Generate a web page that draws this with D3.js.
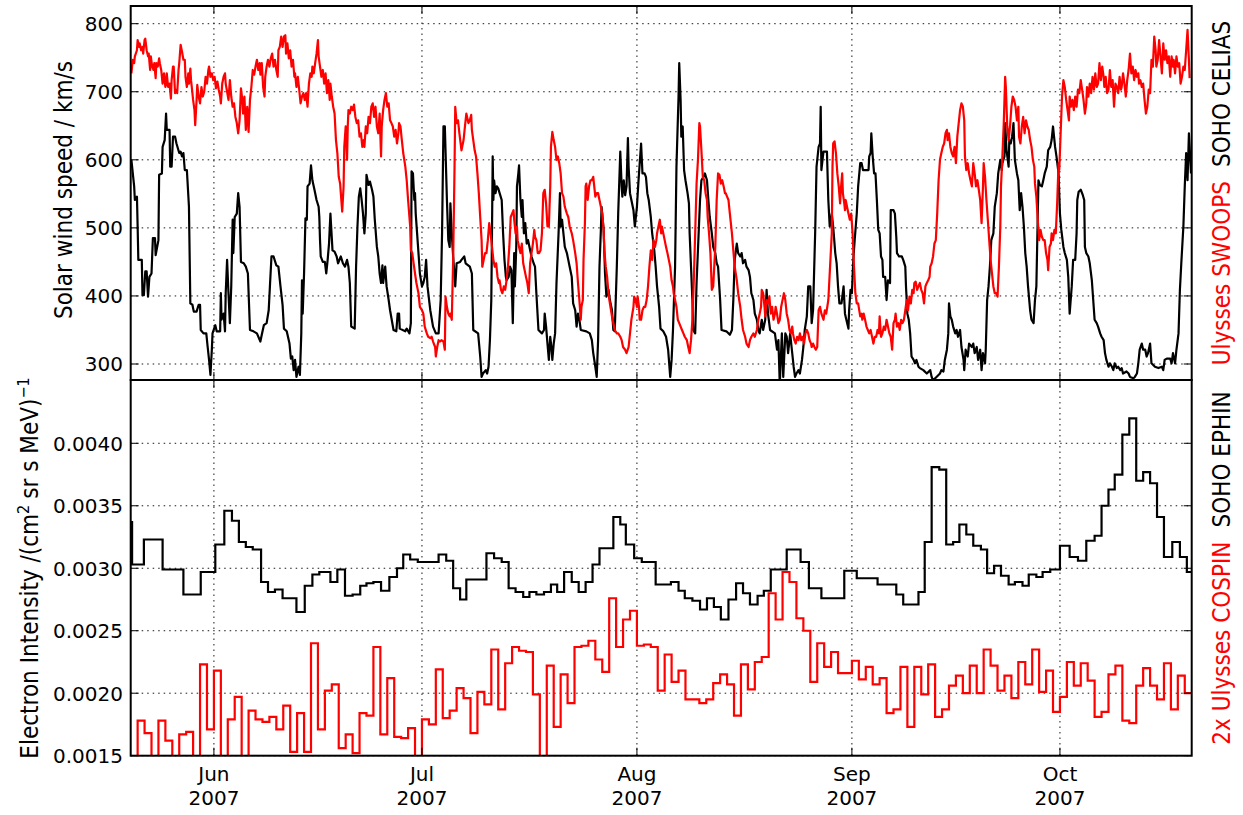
<!DOCTYPE html>
<html>
<head>
<meta charset="utf-8">
<script src="https://cdn.jsdelivr.net/npm/d3@7"></script>
<style>
  body { margin: 0; background: #fff; }
  text { font-family: "DejaVu Sans", sans-serif; }
  .lab { font-family: "DejaVu Sans Condensed", "DejaVu Sans", sans-serif; font-stretch: condensed; }
</style>
</head>
<body>
<div id="chart"></div>
<script>
// time axis: days counted from 2007-05-20 00:00 UT
const startDate = new Date(Date.UTC(2007, 4, 20));
const endDate = new Date(Date.UTC(2007, 9, 20));
const monthTicks = ["2007-06-01", "2007-07-01", "2007-08-01", "2007-09-01", "2007-10-01"];
const speedTicks = [300, 400, 500, 600, 700, 800];
const intensityTicks = [0.0015, 0.0020, 0.0025, 0.0030, 0.0035, 0.0040];

// SOHO CELIAS solar wind speed [day, km/s]
const celias = [[0.1,600],[0.5,561],[0.6,541],[0.9,546],[1.0,502],[1.1,453],[1.6,453],[1.7,401],[1.9,401],[2.1,436],[2.3,436],[2.5,399],[2.7,428],[3.0,433],[3.2,485],[3.5,485],[3.6,460],[4.0,482],[4.1,578],[4.5,580],[4.6,619],[4.9,629],[5.1,668],[5.2,644],[5.6,644],[5.7,590],[5.9,590],[6.1,634],[6.4,634],[6.6,624],[7.0,610],[7.2,612],[7.4,605],[7.6,610],[7.8,585],[8.1,585],[8.4,531],[8.6,389],[8.9,387],[9.1,377],[9.5,377],[9.8,387],[10.0,387],[10.1,350],[10.5,345],[10.9,345],[11.1,325],[11.3,306],[11.5,284],[11.7,321],[11.8,345],[12.2,357],[12.4,348],[12.9,348],[13.0,404],[13.1,365],[13.4,374],[13.6,348],[13.7,404],[13.9,453],[14.1,404],[14.3,360],[14.5,414],[14.7,512],[14.8,463],[15.0,516],[15.3,521],[15.5,551],[15.7,531],[15.9,450],[16.3,448],[16.6,443],[16.9,433],[17.2,350],[17.7,348],[18.2,345],[18.7,333],[18.9,343],[19.2,357],[19.6,360],[19.9,379],[20.1,419],[20.3,458],[20.6,458],[21.0,445],[21.3,443],[21.6,414],[21.9,387],[22.1,352],[22.5,348],[22.9,330],[23.1,308],[23.3,311],[23.5,291],[23.7,306],[23.9,281],[24.2,296],[24.4,284],[24.6,345],[24.7,423],[24.8,374],[25.0,433],[25.2,514],[25.4,512],[25.5,561],[25.8,565],[26.0,592],[26.2,570],[26.5,556],[26.8,541],[27.1,531],[27.2,516],[27.3,482],[27.4,458],[27.7,450],[28.0,450],[28.2,433],[28.4,453],[28.6,477],[28.8,521],[29.1,467],[29.4,465],[29.7,458],[29.9,448],[30.3,458],[30.6,448],[30.9,443],[31.2,453],[31.4,443],[31.6,419],[31.8,355],[32.3,352],[32.5,443],[32.7,502],[32.9,546],[33.1,558],[33.3,541],[33.5,521],[33.7,492],[33.9,521],[34.0,578],[34.3,563],[34.5,568],[34.8,556],[35.0,546],[35.2,512],[35.5,472],[35.7,458],[35.9,433],[36.1,419],[36.3,445],[36.4,419],[36.7,443],[36.9,414],[37.2,394],[37.4,379],[37.9,350],[38.3,348],[38.5,374],[38.7,374],[38.8,352],[39.6,348],[39.8,352],[40.2,345],[40.4,360],[40.5,583],[40.7,580],[40.9,541],[41.0,551],[41.1,521],[41.3,492],[41.5,463],[41.7,433],[42.0,414],[42.2,419],[42.4,428],[42.6,453],[42.8,414],[43.2,379],[43.6,355],[44.0,345],[44.4,345],[44.7,394],[44.9,492],[45.1,649],[45.3,649],[45.6,541],[45.8,482],[46.0,472],[46.1,536],[46.3,492],[46.5,458],[46.8,414],[47.0,448],[47.5,450],
[47.7,453],[48.1,458],[48.3,448],[48.9,443],[49.2,433],[49.4,350],[50.1,345],[50.4,311],[50.6,281],[50.8,286],[51.2,291],[51.4,286],[51.6,296],[51.8,335],[52.0,394],[52.1,492],[52.2,605],[52.3,541],[52.4,570],[52.6,551],[52.8,561],[53.0,558],[53.2,551],[53.5,541],[53.7,492],[53.9,453],[54.1,428],[54.2,423],[54.5,428],[54.7,443],[54.9,438],[55.1,360],[55.3,463],[55.4,414],[55.6,472],[55.7,561],[55.9,580],[56.0,592],[56.2,541],[56.4,516],[56.5,541],[56.7,492],[56.9,507],[57.1,477],[57.3,482],[57.6,467],[57.8,458],[58.1,448],[58.3,443],[58.5,404],[58.8,350],[59.3,345],[59.6,350],[59.7,374],[59.9,355],[60.1,330],[60.3,306],[60.5,340],[60.7,321],[60.8,306],[61.0,330],[61.2,345],[61.4,419],[61.7,492],[61.9,551],[62.0,502],[62.2,512],[62.4,492],[62.6,472],[62.9,463],[63.1,453],[63.3,443],[63.6,428],[63.8,389],[64.1,379],[64.3,355],[64.5,374],[64.7,365],[64.9,350],[65.7,348],[66.2,345],[66.5,335],[66.7,316],[67.0,296],[67.2,281],[67.4,335],[67.6,443],[67.8,497],[67.9,531],[68.2,497],[68.4,433],[68.6,399],[68.9,409],[69.1,394],[69.4,379],[69.6,350],[69.8,348],[70.1,443],[70.3,521],[70.6,612],[70.8,561],[70.9,546],[71.1,570],[71.3,548],[71.5,561],[71.7,632],[71.8,590],[72.0,551],[72.2,541],[72.5,526],[72.7,502],[73.0,531],[73.2,565],[73.4,595],[73.6,624],[73.8,580],[74.1,580],[74.3,575],[74.5,551],[74.7,541],[75.0,516],[75.2,492],[75.5,467],[75.7,443],[75.9,414],[76.2,384],[76.4,352],[76.8,348],[77.2,340],[77.5,321],[77.8,281],[78.0,306],[78.2,350],[78.5,443],[78.7,590],[79.0,693],[79.1,742],[79.3,688],[79.4,634],[79.6,649],[79.8,585],[80.0,570],[80.3,551],[80.5,536],[80.6,492],[80.8,443],[81.0,394],[81.1,350],[81.4,345],[81.6,419],[81.9,492],[82.1,541],[82.3,570],[82.6,575],[82.8,580],[83.1,570],[83.3,541],[83.5,516],[83.8,492],[84.0,472],[84.3,463],[84.5,448],[84.7,443],[85.0,394],[85.2,350],[85.9,348],[86.4,343],[86.7,350],[86.9,394],[87.1,453],[87.4,477],[87.6,463],[87.9,458],[88.1,463],[88.3,448],[88.6,453],[88.8,443],[89.1,438],[89.3,428],[89.5,404],[89.8,394],[90.0,374],[90.3,365],[90.5,350],[90.7,345],[91.0,365],[91.2,350],[91.5,365],[91.7,409],[91.9,374],[92.2,350],[92.9,345],[93.2,321],[93.4,335],[93.6,270],[93.9,345],[94.1,281],[94.4,345],[94.6,340],[94.8,316],[95.1,345],[95.3,325],[95.6,296],[95.8,281],[96.0,286],[96.3,291],[96.5,286],[96.8,306],[97.0,325],[97.2,350],[97.5,370],[97.7,414],[98.0,414],[98.2,360],[98.4,379],[98.7,492],[98.9,590],[99.2,619],[99.4,624],
[99.5,678],[99.6,585],[99.9,612],[100.4,612],[100.6,541],[100.8,502],[101.1,521],[101.3,502],[101.6,463],[101.8,448],[102.0,414],[102.2,389],[102.5,389],[102.8,414],[102.9,394],[103.0,374],[103.2,365],[103.5,352],[103.6,379],[103.8,409],[104.0,404],[104.2,453],[104.4,482],[104.7,521],[104.9,561],[105.2,595],[105.4,595],[105.6,585],[106.4,585],[106.5,605],[106.7,610],[106.8,639],[107.0,605],[107.2,580],[107.4,580],[107.6,541],[107.8,497],[108.0,492],[108.2,458],[108.4,453],[108.5,428],[108.8,428],[109.0,394],[109.2,423],[109.5,419],[109.6,526],[110.0,526],[110.2,521],[110.4,487],[110.5,463],[110.8,458],[111.2,458],[111.4,453],[111.7,443],[111.8,414],[112.0,374],[112.2,365],[112.4,345],[112.6,311],[112.9,306],[113.1,301],[113.3,306],[113.6,296],[113.8,294],[114.3,291],[114.8,286],[115.3,291],[115.5,281],[115.7,276],[116.2,281],[116.7,286],[116.9,291],[117.2,289],[117.4,306],[117.7,321],[117.9,345],[118.0,389],[118.2,370],[118.4,365],[118.6,355],[118.9,345],[119.1,350],[119.3,340],[119.6,350],[119.8,325],[120.1,306],[120.2,291],[120.4,321],[120.7,311],[120.9,330],[121.3,325],[121.5,330],[121.7,316],[122.0,325],[122.2,306],[122.5,321],[122.7,291],[122.9,316],[123.2,301],[123.3,321],[123.5,394],[123.7,414],[123.9,443],[124.1,482],[124.4,492],[124.6,531],[124.9,551],[125.1,580],[125.4,600],[125.6,585],[125.7,595],[126.0,605],[126.1,654],[126.3,614],[126.6,590],[126.7,629],[126.9,624],[127.1,634],[127.3,654],[127.5,600],[127.8,580],[128.0,570],[128.2,526],[128.4,551],[128.6,531],[128.8,502],[129.0,463],[129.2,443],[129.4,414],[129.7,379],[129.9,365],[130.2,360],[130.4,394],[130.6,414],[130.9,570],[131.1,563],[131.4,561],[131.6,570],[131.8,580],[132.1,590],[132.3,614],[132.6,619],[132.8,629],[133.0,649],[133.3,619],[133.5,605],[133.8,580],[134.0,521],[134.2,497],[134.5,472],[134.7,463],[135.0,453],[135.2,428],[135.4,374],[135.7,414],[135.9,453],[136.2,453],[136.4,492],[136.5,541],[136.7,553],[137.0,556],[137.3,548],[137.5,541],[137.6,472],[137.8,463],[138.1,458],[138.3,448],[138.6,423],[138.8,394],[139.0,365],[139.3,360],[139.5,355],[139.8,345],[140.0,340],[140.3,335],[140.5,316],[140.7,306],[141.0,296],[141.2,301],[141.5,296],[141.7,291],[141.9,301],[142.2,294],[142.4,296],[142.7,291],[142.9,294],[143.1,286],[143.6,289],[143.9,286],[144.1,281],[144.6,279],[144.8,281],[145.1,286],[145.3,301],[145.5,321],[145.8,330],[146.0,321],[146.3,321],[146.5,311],[146.7,316],[147.0,330],[147.2,301],[147.7,296],[148.2,294],[148.7,296],[148.9,291],[149.1,306],[149.4,308],[149.9,308],[150.1,301],[150.3,316],[150.6,301],[150.8,321],[151.1,345],[151.3,409],[151.5,448],[151.8,502],[152.0,561],[152.2,610],[152.4,570],[152.6,639],[152.8,600],[152.9,580]];

// Ulysses SWOOPS solar wind speed [day, km/s]
const swoops = [[0.1,727],[0.3,747],[0.5,742],[0.6,752],[0.9,761],[1.0,776],[1.2,766],[1.3,771],[1.5,761],[1.7,766],[1.8,756],[2.0,776],[2.1,778],[2.3,761],[2.5,752],[2.6,756],[2.8,732],[2.9,752],[3.1,737],[3.3,732],[3.4,742],[3.6,720],[3.7,742],[3.9,737],[4.1,749],[4.2,742],[4.4,732],[4.6,712],[4.8,727],[5.0,707],[5.1,712],[5.2,727],[5.4,707],[5.6,712],[5.8,690],[5.9,717],[6.1,737],[6.2,737],[6.4,698],[6.5,703],[6.7,698],[6.9,732],[7.0,742],[7.2,769],[7.4,759],[7.6,747],[7.8,747],[7.9,722],[8.1,707],[8.3,727],[8.4,712],[8.6,734],[8.7,717],[8.9,698],[9.0,688],[9.2,673],[9.3,651],[9.5,688],[9.6,710],[9.8,693],[10.0,683],[10.2,707],[10.4,693],[10.6,700],[10.8,722],[11.0,712],[11.2,732],[11.3,737],[11.5,722],[11.7,727],[11.9,717],[12.1,722],[12.3,705],[12.5,715],[12.7,703],[12.9,693],[13.0,683],[13.2,712],[13.4,722],[13.6,727],[13.7,712],[13.9,700],[14.1,688],[14.3,717],[14.5,693],[14.7,678],[14.9,683],[15.1,663],[15.3,654],[15.5,639],[15.7,658],[15.9,705],[16.1,688],[16.2,668],[16.4,693],[16.6,644],[16.8,678],[17.0,641],[17.2,688],[17.4,707],[17.6,732],[17.8,725],[18.0,737],[18.2,747],[18.4,732],[18.6,742],[18.7,725],[18.9,742],[19.1,707],[19.3,693],[19.4,722],[19.6,737],[19.8,747],[20.0,737],[20.2,749],[20.4,756],[20.6,737],[20.8,747],[21.0,732],[21.2,722],[21.3,761],[21.5,766],[21.7,781],[21.9,766],[22.1,781],[22.3,783],[22.4,756],[22.6,771],[22.8,749],[23.0,761],[23.2,737],[23.4,747],[23.6,722],[23.7,727],[23.9,707],[24.1,722],[24.3,703],[24.5,683],[24.7,693],[24.9,698],[25.1,688],[25.3,698],[25.5,678],[25.7,712],[25.9,727],[26.1,722],[26.2,737],[26.4,727],[26.6,742],[26.8,756],[27.0,776],[27.1,752],[27.3,737],[27.5,722],[27.7,732],[27.9,712],[28.1,727],[28.3,698],[28.5,717],[28.7,688],[28.8,712],[29.0,693],[29.2,678],[29.4,668],[29.6,629],[29.8,610],[30.0,575],[30.2,565],[30.3,551],[30.5,524],[30.7,561],[30.8,619],[31.0,649],[31.2,600],[31.3,649],[31.4,673],[31.6,668],[31.8,678],[32.0,673],[32.2,681],[32.4,663],[32.6,654],[32.8,658],[33.0,634],[33.2,639],[33.4,619],[33.6,629],[33.7,619],[33.9,649],[34.1,639],[34.3,663],[34.5,654],[34.7,678],[34.9,683],[35.1,663],[35.3,678],[35.5,649],[35.7,639],[35.9,668],[36.1,605],[36.2,649],[36.4,673],[36.6,688],[36.8,698],[37.0,678],[37.2,683],[37.4,658],[37.6,654],[37.8,649],[38.0,634],[38.2,644],[38.4,624],[38.6,639],[38.7,654],[38.9,649],[39.1,629],[39.3,610],[39.6,590],[39.8,570],[40.0,541],[40.3,502],[40.4,467],[40.6,463],[40.8,448],[41.0,433],[41.2,419],[41.5,404],[41.7,384],[42.0,379],[42.2,374],[42.4,355],[42.7,345],[42.9,340],[43.2,338],[43.4,340],[43.6,333],[43.9,325],[44.0,311],[44.2,325],[44.4,335],[44.6,333],[44.8,335],[45.1,333],[45.3,321],[45.4,399],[45.6,384],[45.8,374],[46.0,370],[46.1,374],[46.3,365],[46.5,453],[46.7,590],[46.8,678],[47.0,654],[47.2,658],[47.4,639],
[47.7,614],[48.0,629],[48.2,649],[48.4,668],[48.7,654],[48.9,658],[49.1,666],[49.2,644],[49.4,629],[49.6,614],[49.8,605],[50.0,580],[50.2,551],[50.4,516],[50.6,482],[50.7,443],[50.9,453],[51.1,463],[51.3,463],[51.5,482],[51.7,507],[51.9,492],[52.1,472],[52.3,453],[52.5,443],[52.7,448],[52.9,428],[53.1,419],[53.2,423],[53.4,409],[53.6,404],[53.8,414],[54.0,409],[54.2,423],[54.4,443],[54.6,472],[54.8,516],[55.0,521],[55.2,526],[55.3,512],[55.5,492],[55.7,502],[55.8,482],[56.0,472],[56.2,463],[56.4,477],[56.6,448],[56.8,438],[57.0,428],[57.2,419],[57.4,404],[57.6,448],[57.8,463],[58.0,477],[58.2,497],[58.3,487],[58.5,482],[58.7,463],[58.9,463],[59.1,467],[59.3,492],[59.5,551],[59.7,556],[59.9,536],[60.1,502],[60.3,502],[60.5,561],[60.6,619],[60.8,641],[61.0,629],[61.2,619],[61.4,600],[61.6,605],[61.8,595],[62.0,580],[62.2,551],[62.4,546],[62.6,531],[62.9,521],[63.1,516],[63.3,502],[63.6,492],[63.8,482],[64.1,463],[64.3,448],[64.5,419],[64.7,394],[64.9,365],[65.0,384],[65.2,394],[65.3,453],[65.5,507],[65.6,561],[65.7,565],[65.9,541],[66.1,561],[66.3,570],[66.5,570],[66.7,575],[66.9,556],[67.0,546],[67.2,551],[67.4,551],[67.6,541],[67.8,531],[68.0,521],[68.2,497],[68.3,467],[68.5,443],[68.7,428],[68.9,404],[69.1,389],[69.4,370],[69.6,360],[69.8,350],[70.1,345],[70.3,345],[70.6,340],[70.8,335],[71.0,325],[71.3,321],[71.5,316],[71.8,325],[72.0,345],[72.2,365],[72.5,384],[72.6,399],[72.8,394],[73.0,384],[73.1,399],[73.3,384],[73.4,365],[73.6,365],[73.8,379],[74.0,384],[74.2,384],[74.4,394],[74.6,414],[74.8,443],[75.0,467],[75.2,453],[75.4,482],[75.6,472],[75.8,482],[75.9,492],[76.1,502],[76.3,512],[76.5,492],[76.6,502],[76.8,492],[77.0,482],[77.2,472],[77.4,463],[77.6,453],[77.8,443],[78.0,423],[78.2,414],[78.3,404],[78.5,394],[78.7,384],[78.9,365],[79.1,360],[79.3,355],[79.5,350],[79.7,345],[79.9,340],[80.2,335],[80.4,325],[80.6,316],[80.8,335],[81.0,365],[81.2,423],[81.4,492],[81.6,565],[81.8,600],[82.0,654],[82.1,649],[82.3,614],[82.5,575],[82.7,570],[82.9,551],[83.1,541],[83.2,516],[83.4,492],[83.6,463],[83.8,409],[84.0,414],[84.2,453],[84.3,472],[84.5,541],[84.7,580],[84.9,578],[85.1,565],[85.3,570],[85.5,561],[85.7,551],[85.8,551],[86.0,546],[86.2,541],[86.4,521],[86.7,492],[86.9,467],[87.1,443],[87.4,423],[87.6,404],[87.9,384],[88.1,365],[88.3,350],[88.6,340],[88.8,330],[89.1,325],[89.3,335],[89.5,340],[89.8,345],[90.0,340],[90.3,350],[90.5,365],[90.7,374],[90.9,384],[91.0,409],[91.2,404],[91.4,384],[91.5,370],[91.7,394],[91.9,389],[92.1,399],[92.3,374],[92.5,384],[92.7,365],[92.9,374],[93.0,384],[93.2,374],[93.4,360],[93.6,365],[93.8,384],[94.0,394],[94.2,404],[94.4,394],[94.6,374],[94.8,365],[95.0,350],[95.2,345],[95.4,355],[95.5,345],[95.7,335],[95.9,330],[96.1,340],[96.3,335],[96.5,345],[96.7,335],[96.9,340],[97.1,330],[97.3,345],[97.5,350],[97.7,345],[97.9,335],[98.1,330],[98.2,325],[98.4,330],[98.6,325],[98.8,321],[99.0,325],[99.2,379],
[99.4,384],[99.6,374],[99.9,365],[100.1,379],[100.3,374],[100.6,394],[100.8,433],[101.1,492],[101.2,590],[101.3,624],[101.5,627],[101.7,610],[101.9,580],[102.1,561],[102.3,536],[102.4,556],[102.6,580],[102.7,551],[102.9,536],[103.0,526],[103.1,541],[103.3,531],[103.5,521],[103.7,512],[103.9,521],[104.1,492],[104.3,443],[104.5,404],[104.7,389],[104.9,389],[105.2,370],[105.4,374],[105.5,365],[105.7,374],[105.9,365],[106.1,355],[106.3,350],[106.5,345],[106.7,350],[106.9,340],[107.1,330],[107.3,340],[107.5,340],[107.7,350],[107.9,345],[108.0,370],[108.2,340],[108.4,345],[108.6,355],[108.8,350],[109.0,365],[109.2,355],[109.4,345],[109.6,340],[109.8,321],[110.0,360],[110.2,365],[110.3,374],[110.5,355],[110.7,360],[110.9,350],[111.1,365],[111.3,360],[111.5,365],[111.7,379],[111.9,394],[112.1,379],[112.3,399],[112.5,389],[112.7,409],[112.9,404],[113.0,419],[113.2,421],[113.4,409],[113.6,414],[113.8,419],[114.0,409],[114.2,404],[114.4,389],[114.6,414],[114.8,419],[115.0,423],[115.2,428],[115.3,443],[115.5,448],[115.7,458],[115.9,477],[116.1,482],[116.3,521],[116.5,570],[116.7,600],[116.9,610],[117.1,619],[117.3,624],[117.5,639],[117.7,644],[117.8,629],[118.0,639],[118.2,619],[118.4,610],[118.6,605],[118.8,619],[119.0,595],[119.2,634],[119.4,654],[119.6,673],[119.8,683],[120.0,678],[120.2,658],[120.3,605],[120.5,585],[120.7,595],[120.9,580],[121.1,570],[121.3,561],[121.5,595],[121.7,580],[121.9,561],[122.1,570],[122.3,556],[122.5,541],[122.7,507],[122.9,561],[123.0,595],[123.2,575],[123.4,541],[123.6,512],[123.8,482],[124.0,453],[124.2,433],[124.4,414],[124.6,404],[124.8,404],[125.0,399],[125.2,443],[125.4,502],[125.5,561],[125.7,605],[125.9,654],[126.1,722],[126.2,707],[126.4,649],[126.6,629],[126.8,649],[127.0,678],[127.2,693],[127.4,688],[127.6,678],[127.8,658],[128.0,678],[128.1,634],[128.3,624],[128.5,649],[128.7,663],[128.9,639],[129.1,658],[129.3,649],[129.5,644],[129.7,629],[129.9,619],[130.1,600],[130.3,590],[130.4,565],[130.6,546],[130.8,512],[131.0,482],[131.2,497],[131.4,487],[131.6,482],[131.8,482],[132.0,463],[132.2,453],[132.3,438],[132.5,472],[132.7,477],[132.8,492],[133.0,482],[133.2,497],[133.4,492],[133.6,536],[133.8,595],[133.9,585],[134.1,639],[134.3,693],[134.5,717],[134.7,707],[134.9,688],[135.1,673],[135.3,658],[135.4,693],[135.6,678],[135.8,688],[136.0,673],[136.2,693],[136.4,678],[136.6,703],[136.8,698],[137.0,717],[137.2,703],[137.4,688],[137.6,668],[137.8,683],[137.9,707],[138.1,693],[138.3,712],[138.5,698],[138.7,722],[138.9,703],[139.1,727],[139.3,707],[139.5,712],[139.7,742],[139.9,717],[140.1,737],[140.3,722],[140.4,707],[140.6,722],[140.8,698],[141.0,703],[141.2,732],[141.4,707],[141.6,717],[141.8,678],[142.0,712],[142.2,707],[142.4,698],[142.6,722],[142.8,703],[142.9,707],[143.1,727],[143.3,712],[143.5,693],[143.7,717],[143.9,732],[144.1,756],[144.3,727],[144.5,737],[144.7,717],[144.9,732],[145.1,722],[145.3,727],[145.4,712],[145.6,717],[145.8,707],[146.0,712],[146.2,688],[146.4,668],[146.6,678],[146.8,703],[147.0,698],[147.2,747],[147.4,737],[147.6,781],[147.8,761],[147.9,737],[148.1,747],[148.3,776],[148.5,752],[148.7,727],[148.9,771],[149.1,747],[149.3,761],[149.5,742],[149.7,752],[149.9,722],[150.1,752],[150.3,737],[150.4,747],[150.6,727],[150.8,752],[151.0,737],[151.2,742],[151.4,712],[151.6,722],[151.8,737],[152.0,732],[152.2,761],[152.4,791],[152.6,747],[152.7,720]];

// SOHO EPHIN electron intensity, step starts [day, value]
const ephin = [[0,0.00337],[0.2,0.00303],[1.9,0.00323],[4.6,0.00299],[7.6,0.00279],[10.1,0.00297],[12.2,0.00319],[13.5,0.00346],[14.6,0.00338],[15.6,0.00321],[16.6,0.00317],[17.6,0.00315],[18.8,0.00289],[19.8,0.00281],[20.8,0.00283],[21.9,0.00276],[23.9,0.00265],[25.1,0.00286],[26.2,0.00295],[27.2,0.00297],[28.8,0.00289],[29.8,0.00299],[30.9,0.00278],[32.0,0.00279],[33.1,0.00286],[34.0,0.00288],[35.0,0.00289],[36.1,0.00282],[37.3,0.00293],[38.4,0.00300],[39.3,0.00311],[40.3,0.00307],[41.4,0.00305],[44.4,0.00311],[45.5,0.00306],[46.5,0.00284],[47.5,0.00275],[48.4,0.00291],[51.3,0.00312],[52.4,0.00308],[53.5,0.00305],[54.5,0.00284],[55.5,0.00281],[56.6,0.00277],[57.5,0.00281],[58.5,0.00279],[59.6,0.00281],[60.6,0.00287],[61.5,0.00281],[62.5,0.00297],[63.6,0.00289],[64.6,0.00281],[65.6,0.00289],[66.6,0.00303],[67.6,0.00316],[69.6,0.00341],[70.6,0.00335],[71.4,0.00319],[72.6,0.00308],[73.7,0.00305],[75.7,0.00287],[77.9,0.00289],[79.0,0.00282],[79.9,0.00276],[81.0,0.00274],[82.1,0.00267],[83.1,0.00276],[84.1,0.00269],[85.1,0.00259],[86.2,0.00275],[87.3,0.00288],[88.3,0.00280],[89.3,0.00271],[90.4,0.00278],[91.3,0.00282],[92.3,0.00299],[94.6,0.00315],[96.6,0.00305],[97.8,0.00284],[99.6,0.00276],[102.9,0.00298],[104.7,0.00292],[107.7,0.00287],[110.4,0.00279],[111.4,0.00271],[113.6,0.00281],[114.5,0.00321],[115.5,0.00381],[116.6,0.00379],[117.6,0.00319],[118.6,0.00321],[119.5,0.00335],[120.5,0.00327],[121.5,0.00318],[122.6,0.00315],[123.5,0.00296],[124.5,0.00302],[125.5,0.00294],[126.6,0.00287],[127.5,0.00289],[128.6,0.00286],[129.5,0.00295],[130.6,0.00293],[131.5,0.00297],[132.6,0.00299],[134.0,0.00318],[135.4,0.00309],[136.6,0.00306],[137.8,0.00322],[139.0,0.00326],[140.0,0.00350],[141.0,0.00363],[141.9,0.00375],[143.0,0.00407],[144.0,0.00420],[145.0,0.00370],[146.0,0.00377],[147.0,0.00368],[148.0,0.00341],[149.0,0.00309],[150.2,0.00321],[151.3,0.00309],[152.3,0.00297]];

// 2x Ulysses COSPIN electron intensity, daily values from 2007-05-20
const cospin = [0.0014,0.00178,0.00168,0.0014,0.00178,0.00162,0.0014,0.00167,0.00169,0.0014,
0.00223,0.00171,0.00218,0.0014,0.00179,0.00197,0.0014,0.00186,0.00179,0.00177,
0.00181,0.00171,0.00190,0.00153,0.00184,0.00153,0.00240,0.00171,0.00202,0.00207,
0.00156,0.00167,0.00152,0.00184,0.00182,0.00237,0.00167,0.00212,0.00165,0.00164,
0.00172,0.0014,0.00179,0.00175,0.00219,0.00180,0.00186,0.00204,0.00196,0.00168,
0.00201,0.00191,0.00235,0.00187,0.00224,0.00237,0.00234,0.00233,0.00199,0.0014,
0.00222,0.00173,0.00215,0.00192,0.00237,0.00238,0.00242,0.00227,0.00217,0.00276,
0.00237,0.00259,0.00266,0.00238,0.00239,0.00237,0.00202,0.00231,0.00209,0.00218,
0.00195,0.00195,0.00192,0.00195,0.00208,0.00215,0.00207,0.00182,0.00223,0.00203,
0.00225,0.00229,0.00280,0.00259,0.00297,0.00289,0.00260,0.00250,0.00209,0.00240,
0.00221,0.00233,0.00216,0.00216,0.00226,0.00211,0.00221,0.00207,0.00212,0.00184,
0.00187,0.00221,0.00173,0.00221,0.00199,0.00223,0.00181,0.00187,0.00206,0.00214,
0.00200,0.00222,0.00200,0.00235,0.00222,0.00202,0.00214,0.00196,0.00225,0.00207,
0.00235,0.00201,0.00218,0.00185,0.00197,0.00225,0.00206,0.00224,0.00210,0.00181,
0.00185,0.00215,0.00222,0.00178,0.00176,0.00206,0.00220,0.00206,0.00195,0.00224,
0.00187,0.00214,0.00200];

const width = 1243, height = 815;
const plotLeft = 130.7, plotRight = 1191.7;

const svg = d3.select("#chart").append("svg")
  .attr("width", width).attr("height", height);

const toDate = (d) => new Date(startDate.getTime() + d * 864e5);
const x = d3.scaleUtc().domain([startDate, endDate]).range([plotLeft, plotRight]);
const ySpeed = d3.scaleLinear().domain([276.5, 826]).range([380, 6]);
const yInt = d3.scaleLinear().domain([0.0015, 0.0045]).range([755.7, 380.8]);
const months = monthTicks.map((s) => new Date(s + "T00:00:00Z"));

const panels = [
  { y: ySpeed, top: 6, bottom: 380, ticks: speedTicks, fmt: d3.format("d"), id: "clipTop" },
  { y: yInt, top: 380, bottom: 755.7, ticks: intensityTicks, fmt: d3.format(".4f"), id: "clipBot" }
];

panels.forEach((p) => {
  svg.append("clipPath").attr("id", p.id)
    .append("rect").attr("x", plotLeft).attr("y", p.top)
    .attr("width", plotRight - plotLeft).attr("height", p.bottom - p.top);

  // dotted grid
  const grid = svg.append("g").attr("stroke", "#000").attr("stroke-width", 1)
    .attr("stroke-dasharray", "1.5,4").attr("opacity", 0.9);
  grid.selectAll(".vg").data(months).enter().append("line")
    .attr("x1", (d) => x(d)).attr("x2", (d) => x(d))
    .attr("y1", p.top).attr("y2", p.bottom);
  grid.selectAll(".hg").data(p.ticks).enter().append("line")
    .attr("x1", plotLeft).attr("x2", plotRight)
    .attr("y1", (d) => p.y(d)).attr("y2", (d) => p.y(d));
});

// top panel lines
const speedLine = d3.line().x((d) => x(toDate(d[0]))).y((d) => ySpeed(d[1]));
const gTop = svg.append("g").attr("clip-path", "url(#clipTop)");
gTop.append("path").datum(celias).attr("d", speedLine)
  .attr("fill", "none").attr("stroke", "#000").attr("stroke-width", 2.2).attr("stroke-linejoin", "round");
gTop.append("path").datum(swoops).attr("d", speedLine)
  .attr("fill", "none").attr("stroke", "#ff0000").attr("stroke-width", 2.2).attr("stroke-linejoin", "round");

// bottom panel steps
const stepLine = d3.line().curve(d3.curveStepAfter)
  .x((d) => x(toDate(d[0]))).y((d) => yInt(d[1]));
const ephinPts = ephin.concat([[153, ephin[ephin.length - 1][1]]]);
const cospinPts = cospin.map((v, i) => [i, v]).concat([[cospin.length, cospin[cospin.length - 1]]]);
const gBot = svg.append("g").attr("clip-path", "url(#clipBot)");
gBot.append("path").datum(ephinPts).attr("d", stepLine)
  .attr("fill", "none").attr("stroke", "#000").attr("stroke-width", 2.2);
gBot.append("path").datum(cospinPts).attr("d", stepLine)
  .attr("fill", "none").attr("stroke", "#ff0000").attr("stroke-width", 2.2);

// frames, ticks and tick labels
panels.forEach((p) => {
  const g = svg.append("g");
  g.append("rect").attr("x", plotLeft).attr("y", p.top)
    .attr("width", plotRight - plotLeft).attr("height", p.bottom - p.top)
    .attr("fill", "none").attr("stroke", "#000").attr("stroke-width", 2);

  p.ticks.forEach((t) => {
    const yy = p.y(t);
    g.append("line").attr("x1", plotLeft).attr("x2", plotLeft + 8).attr("y1", yy).attr("y2", yy)
      .attr("stroke", "#000").attr("stroke-width", 1);
    g.append("line").attr("x1", plotRight - 8).attr("x2", plotRight).attr("y1", yy).attr("y2", yy)
      .attr("stroke", "#000").attr("stroke-width", 1);
    g.append("text").attr("x", 123).attr("y", yy + 7.3).attr("text-anchor", "end")
      .attr("font-size", 20).text(p.fmt(t));
  });

  months.forEach((m) => {
    g.append("line").attr("x1", x(m)).attr("x2", x(m)).attr("y1", p.top).attr("y2", p.top + 8)
      .attr("stroke", "#000").attr("stroke-width", 1);
    g.append("line").attr("x1", x(m)).attr("x2", x(m)).attr("y1", p.bottom - 8).attr("y2", p.bottom)
      .attr("stroke", "#000").attr("stroke-width", 1);
  });
});

// month labels
const fmtMonth = d3.utcFormat("%b"), fmtYear = d3.utcFormat("%Y");
months.forEach((m) => {
  svg.append("text").attr("x", x(m)).attr("y", 781).attr("text-anchor", "middle")
    .attr("font-size", 20).text(fmtMonth(m));
  svg.append("text").attr("x", x(m)).attr("y", 805).attr("text-anchor", "middle")
    .attr("font-size", 20).text(fmtYear(m));
});

// y axis labels
svg.append("text").attr("class", "lab")
  .attr("transform", "translate(72,190) rotate(-90)")
  .attr("text-anchor", "middle").attr("font-size", 24)
  .text("Solar wind speed / km/s");

const elab = svg.append("text").attr("class", "lab")
  .attr("transform", "translate(38,568) rotate(-90)")
  .attr("text-anchor", "middle").attr("font-size", 24);
elab.append("tspan").text("Electron Intensity /(cm");
elab.append("tspan").attr("font-size", 16).attr("dy", -9).text("2");
elab.append("tspan").attr("dy", 9).attr("dx", 6).text("sr s MeV)");
elab.append("tspan").attr("font-size", 16).attr("dy", -9).text("\u22121");

// instrument labels on the right
const rTop = svg.append("text").attr("class", "lab")
  .attr("transform", "translate(1230,193) rotate(-90)")
  .attr("text-anchor", "middle").attr("font-size", 24);
rTop.append("tspan").attr("fill", "#ff0000").text("Ulysses SWOOPS");
rTop.append("tspan").attr("fill", "#000").attr("dx", 14).text("SOHO CELIAS");

const rBot = svg.append("text").attr("class", "lab")
  .attr("transform", "translate(1230,568) rotate(-90)")
  .attr("text-anchor", "middle").attr("font-size", 24);
rBot.append("tspan").attr("fill", "#ff0000").text("2x Ulysses COSPIN");
rBot.append("tspan").attr("fill", "#000").attr("dx", 14).text("SOHO EPHIN");
</script>
</body>
</html>
